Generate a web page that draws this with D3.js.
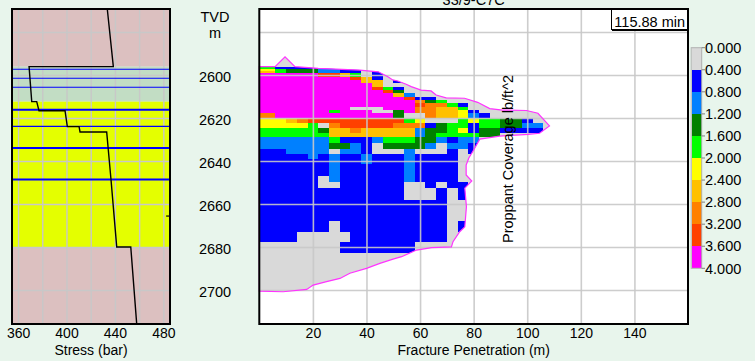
<!DOCTYPE html>
<html>
<head>
<meta charset="utf-8">
<script src="https://cdn.jsdelivr.net/npm/d3@7"></script>
<style>
html, body { margin: 0; padding: 0; background: #e8f5ec; }
svg { display: block; font-family: "Liberation Sans", Arial, sans-serif; }
</style>
</head>
<body>
<div id="chart"></div>
<script>
// ---- Data ----
// Stress log (left track)
const stressValues = [433.7, 438.7, 369.1, 371.3, 375.4, 377.3, 398.8, 400.7, 410.4, 411.2, 433.2, 436.8, 441.5, 453.1, 458.0];
const stressDepths = [2569.3, 2596.1, 2596.1, 2612.4, 2612.4, 2616.6, 2616.6, 2624.0, 2624.0, 2626.5, 2626.5, 2648.8, 2680.0, 2680.0, 2715.8];

// Lithology layers (left track)
const layerTops = [2569.3, 2596.1, 2612.4, 2680.0];
const layerBottoms = [2596.1, 2612.4, 2680.0, 2715.8];

// Perforation / marker lines (left track)
const perfDepths = [2597.3, 2601.5, 2605.7, 2616.1, 2623.9, 2633.9, 2648.6];
const perfThick = [false, false, false, true, false, true, true];

// Fracture outline (penetration m, depth m)
const fracturePen = [0, 5.9, 9.6, 13.3, 22.0, 37.5, 44.4, 48.0, 49.8, 51.7, 54.8, 56.7, 60.4, 64.1, 66.0, 69.7, 76.6, 81.5, 86.0, 90.8, 99.7, 104.0, 108.3, 104.6, 100.3, 89.7, 82.3, 80.0, 78.2, 77.2, 77.2, 79.3, 76.7, 77.3, 76.7, 74.8, 72.3, 71.7, 64.3, 58.7, 53.1, 49.9, 45.0, 40.0, 33.8, 30.1, 25.1, 20.1, 17.7, 8.9, 0];
const fractureDepth = [2596.1, 2596.1, 2591.5, 2596.1, 2596.9, 2597.7, 2598.5, 2600.8, 2602.3, 2602.8, 2604.3, 2605.4, 2607.0, 2607.4, 2609.3, 2610.6, 2610.8, 2612.7, 2615.6, 2616.3, 2616.5, 2617.8, 2623.7, 2627.1, 2627.6, 2628.4, 2629.8, 2634.9, 2638.6, 2641.9, 2646.5, 2649.3, 2652.6, 2661.3, 2670.6, 2672.9, 2677.5, 2679.9, 2680.3, 2681.4, 2684.5, 2685.6, 2687.6, 2689.9, 2692.2, 2694.6, 2696.1, 2697.7, 2699.7, 2700.8, 2700.5];

// Proppant coverage grid: row depth edges and band index per 4 m column (0..9, '.' = none)
const rowEdges = [2596.1, 2597.1, 2598.0, 2599.2, 2600.8, 2602.3, 2603.9, 2605.4, 2607.0, 2608.5, 2610.1,
  2611.6, 2613.2, 2614.7, 2616.3, 2617.8, 2620.1, 2622.5, 2624.8, 2627.0, 2628.8, 2631.6, 2634.4, 2636.7,
  2639.1, 2641.6, 2644.2, 2647.0, 2649.8, 2652.6, 2655.4, 2658.1, 2660.9, 2663.3, 2665.6, 2667.9, 2670.7,
  2673.0, 2675.4, 2677.7, 2680.5, 2682.8];
const coverageRows = [
  "4411111110",
  "554333221100",
  "664333221101",
  "9999998864010",
  "9999999998610",
  "99999999996601",
  "999999999996000",
  "9999999999984100",
  "99999999999983000",
  "99999999999996200",
  "999999999999998110",
  "99999999999999973400",
  "999999999999999877410",
  "9999999990009997766400",
  "99999994999003977665100000",
  "77999999999993007665210000",
  "555678888888884500045443310",
  "555554078888877713441443322",
  "444444366766666233451331111",
  "444444466666666234444330",
  "2222222411124443321220",
  "222222233210333320221",
  "111222202210002000101",
  "11111212112111211110",
  "11111112112111211110",
  "11111112111111211110",
  "11111112111111211110",
  "11111102111111211110",
  "11111100111111001011",
  "11111111111111000101",
  "11111111111111000101",
  "11111111111111111100",
  "11111111111111111100",
  "11111111111111111100",
  "11111111111111111100",
  "11111110111111111101",
  "11111110111111111101",
  "11110000011111111100",
  "11110000011111111100",
  "00000000111111100000",
  "00000000111111100000"
];
const columnWidth = 4;

// Legend
const legendLabels = ["0.000", "0.400", "0.800", "1.200", "1.600", "2.000", "2.400", "2.800", "3.200", "3.600", "4.000"];
const legendValues = [0, 0.4, 0.8, 1.2, 1.6, 2.0, 2.4, 2.8, 3.2, 3.6, 4.0];

// Axis ticks
const depthTicks = [2600, 2620, 2640, 2660, 2680, 2700];
const depthGrid = [2580, 2600, 2620, 2640, 2660, 2680, 2700];
const penTicks = [20, 40, 60, 80, 100, 120, 140];
const stressTicks = [360, 400, 440, 480];
const stressGrid = [360, 380, 400, 420, 440, 460, 480];

// ---- Styles ----
const bandColours = ['#d9d9d9', '#0000ff', '#0080ff', '#008000', '#00ff00', '#ffff00', '#ffc000', '#ff8000', '#ff4000', '#ff00ff'];
const layerColours = ['#dcc0c0', '#c2ddc4', '#e4ff00', '#dcc0c0'];
const gridColour = '#c8c8c8';

const W = 755, H = 361;
const plotTop = 9, plotBottom = 324;

const depthScale = d3.scaleLinear().domain([2569.3, 2715.8]).range([plotTop, plotBottom]);
const stressScale = d3.scaleLinear().domain([355, 485.5]).range([12, 170]);
const penScale = d3.scaleLinear().domain([0, 160]).range([259.3, 688]);
const legendScale = d3.scaleLinear().domain([0, 4]).range([47.7, 268.3]);
const bandColour = d3.scaleOrdinal(d3.range(10), bandColours);

const svg = d3.select('#chart').append('svg')
  .attr('width', W).attr('height', H);

svg.append('rect').attr('width', W).attr('height', H).attr('fill', '#e8f5ec');

// ================= Left track =================
const left = svg.append('g');
const [sx0, sx1] = stressScale.range();

left.selectAll('rect.layer')
  .data(layerTops)
  .join('rect')
  .attr('class', 'layer')
  .attr('x', sx0)
  .attr('width', sx1 - sx0)
  .attr('y', d => depthScale(d))
  .attr('height', (d, i) => depthScale(layerBottoms[i]) - depthScale(d))
  .attr('fill', (d, i) => layerColours[i]);

// grid
left.append('g')
  .attr('transform', `translate(0,${plotBottom})`)
  .call(d3.axisBottom(stressScale).tickValues(stressGrid).tickSize(-(plotBottom - plotTop)).tickFormat(''))
  .call(g => g.select('.domain').remove())
  .call(g => g.selectAll('line').attr('stroke', gridColour).attr('stroke-width', 1.4));
left.append('g')
  .attr('transform', `translate(${sx0},0)`)
  .call(d3.axisLeft(depthScale).tickValues(depthGrid).tickSize(-(sx1 - sx0)).tickFormat(''))
  .call(g => g.select('.domain').remove())
  .call(g => g.selectAll('line').attr('stroke', gridColour).attr('stroke-width', 1.4));

// perforation lines
left.selectAll('line.perf')
  .data(perfDepths)
  .join('line')
  .attr('class', 'perf')
  .attr('x1', sx0).attr('x2', sx1)
  .attr('y1', d => depthScale(d)).attr('y2', d => depthScale(d))
  .attr('stroke', '#0000ff')
  .attr('stroke-width', (d, i) => perfThick[i] ? 2 : 1.1);

// stress profile
const stressLine = d3.line()
  .x(i => stressScale(stressValues[i]))
  .y(i => depthScale(stressDepths[i]));
left.append('path')
  .attr('d', stressLine(d3.range(stressValues.length)))
  .attr('fill', 'none')
  .attr('stroke', '#000')
  .attr('stroke-width', 1.4);

// small gauge mark at right edge
left.append('line')
  .attr('x1', stressScale(482.3)).attr('x2', sx1)
  .attr('y1', depthScale(2665.6)).attr('y2', depthScale(2665.6))
  .attr('stroke', '#000').attr('stroke-width', 1.2);

left.append('rect')
  .attr('x', sx0).attr('y', plotTop)
  .attr('width', sx1 - sx0).attr('height', plotBottom - plotTop)
  .attr('fill', 'none').attr('stroke', '#000').attr('stroke-width', 2);

// stress axis labels
left.append('g')
  .attr('transform', `translate(0,${plotBottom})`)
  .call(d3.axisBottom(stressScale).tickValues(stressTicks).tickSize(0).tickPadding(4))
  .call(g => g.select('.domain').remove())
  .call(g => g.selectAll('text').attr('font-size', 14).attr('fill', '#000').attr('font-family', null));

left.append('text')
  .attr('x', (sx0 + sx1) / 2).attr('y', 355)
  .attr('text-anchor', 'middle').attr('font-size', 14)
  .text('Stress (bar)');

// ================= Depth labels =================
const depthAxis = svg.append('g')
  .attr('transform', 'translate(215,0)')
  .call(d3.axisLeft(depthScale).tickValues(depthTicks).tickFormat(d3.format('d')).tickSize(0).tickPadding(0))
  .call(g => g.select('.domain').remove());
depthAxis.selectAll('text')
  .attr('text-anchor', 'middle')
  .attr('x', 0)
  .attr('dy', '0.47em')
  .attr('font-size', 14.5)
  .attr('font-family', null)
  .attr('fill', '#000');

svg.append('text').attr('x', 215).attr('y', 21.7)
  .attr('text-anchor', 'middle').attr('font-size', 14.5).text('TVD');
svg.append('text').attr('x', 215).attr('y', 38)
  .attr('text-anchor', 'middle').attr('font-size', 14.5).text('m');

// ================= Main plot =================
const main = svg.append('g');
const [px0, px1] = penScale.range();

main.append('rect')
  .attr('x', px0).attr('y', plotTop)
  .attr('width', px1 - px0).attr('height', plotBottom - plotTop)
  .attr('fill', '#fff');

const outlineLine = d3.line()
  .x(i => penScale(fracturePen[i]))
  .y(i => depthScale(fractureDepth[i]));
const outlinePath = outlineLine(d3.range(fracturePen.length)) + 'Z';

svg.append('defs').append('clipPath')
  .attr('id', 'frac-clip')
  .append('path')
  .attr('d', outlinePath);

main.append('path')
  .attr('d', outlinePath)
  .attr('fill', bandColours[0]);

// coverage cells
const cells = [];
coverageRows.forEach((row, r) => {
  row.split('').forEach((ch, c) => {
    if (ch === '.') return;
    cells.push({
      band: +ch,
      pen0: Math.max(0, c * columnWidth - columnWidth / 2),
      pen1: c * columnWidth + columnWidth / 2,
      d0: rowEdges[r],
      d1: rowEdges[r + 1]
    });
  });
});

main.append('g')
  .attr('clip-path', 'url(#frac-clip)')
  .selectAll('rect')
  .data(cells)
  .join('rect')
  .attr('x', d => penScale(d.pen0))
  .attr('width', d => penScale(d.pen1) - penScale(d.pen0))
  .attr('y', d => depthScale(d.d0))
  .attr('height', d => depthScale(d.d1) - depthScale(d.d0))
  .attr('fill', d => bandColour(d.band))
  .attr('shape-rendering', 'crispEdges');

// grid
main.append('g')
  .attr('transform', `translate(0,${plotBottom})`)
  .call(d3.axisBottom(penScale).tickValues(penTicks).tickSize(-(plotBottom - plotTop)).tickFormat(''))
  .call(g => g.select('.domain').remove())
  .call(g => g.selectAll('line').attr('stroke', gridColour).attr('stroke-width', 1.6).attr('stroke-opacity', 0.9));
main.append('g')
  .attr('transform', `translate(${px0},0)`)
  .call(d3.axisLeft(depthScale).tickValues(depthGrid).tickSize(-(px1 - px0)).tickFormat(''))
  .call(g => g.select('.domain').remove())
  .call(g => g.selectAll('line').attr('stroke', gridColour).attr('stroke-width', 1.6).attr('stroke-opacity', 0.9));

// fracture outline
main.append('path')
  .attr('d', outlinePath)
  .attr('fill', 'none')
  .attr('stroke', '#ff33ff')
  .attr('stroke-width', 1.2);

// rotated legend title
main.append('text')
  .attr('transform', 'translate(513,159) rotate(-90)')
  .attr('text-anchor', 'middle')
  .attr('font-size', 14.5)
  .text('Proppant Coverage lb/ft^2');

// time box
main.append('rect')
  .attr('x', 611.5).attr('y', plotTop)
  .attr('width', px1 - 611.5).attr('height', 20.5)
  .attr('fill', '#fff').attr('stroke', '#000').attr('stroke-width', 1);
main.append('line')
  .attr('x1', 612).attr('x2', px1)
  .attr('y1', 30).attr('y2', 30)
  .attr('stroke', '#000').attr('stroke-width', 2);
main.append('text')
  .attr('x', 685).attr('y', 27.3)
  .attr('text-anchor', 'end').attr('font-size', 14.5)
  .text('115.88 min');

// frame
main.append('rect')
  .attr('x', px0).attr('y', plotTop)
  .attr('width', px1 - px0).attr('height', plotBottom - plotTop)
  .attr('fill', 'none').attr('stroke', '#000').attr('stroke-width', 2);

// penetration axis labels
main.append('g')
  .attr('transform', `translate(0,${plotBottom})`)
  .call(d3.axisBottom(penScale).tickValues(penTicks).tickSize(0).tickPadding(4))
  .call(g => g.select('.domain').remove())
  .call(g => g.selectAll('text').attr('font-size', 14).attr('fill', '#000').attr('font-family', null));

main.append('text')
  .attr('x', (px0 + px1) / 2).attr('y', 355)
  .attr('text-anchor', 'middle').attr('font-size', 14)
  .text('Fracture Penetration (m)');

// title (partly clipped at top, as in the source)
svg.append('text')
  .attr('x', (px0 + px1) / 2).attr('y', 5)
  .attr('text-anchor', 'middle').attr('font-size', 14.5)
  .text('33/9-C7C');

// ================= Colour legend =================
const legend = svg.append('g');
legend.selectAll('rect')
  .data(bandColours)
  .join('rect')
  .attr('x', 691.7)
  .attr('width', 10)
  .attr('y', (d, i) => legendScale(legendValues[i]))
  .attr('height', (d, i) => legendScale(legendValues[i + 1]) - legendScale(legendValues[i]))
  .attr('fill', d => d)
  .attr('shape-rendering', 'crispEdges');
legend.append('rect')
  .attr('x', 691.2).attr('y', legendScale(0))
  .attr('width', 10.5).attr('height', legendScale(4) - legendScale(0))
  .attr('fill', 'none').attr('stroke', '#b0b0b0').attr('stroke-width', 1);
legend.selectAll('line.tick')
  .data(legendValues)
  .join('line')
  .attr('class', 'tick')
  .attr('x1', 701.7).attr('x2', 705)
  .attr('y1', d => legendScale(d)).attr('y2', d => legendScale(d))
  .attr('stroke', '#808080');
legend.selectAll('text')
  .data(legendLabels)
  .join('text')
  .attr('x', 705)
  .attr('y', (d, i) => legendScale(legendValues[i]))
  .attr('dy', '0.36em')
  .attr('font-size', 14.5)
  .text(d => d);
</script>
</body>
</html>
